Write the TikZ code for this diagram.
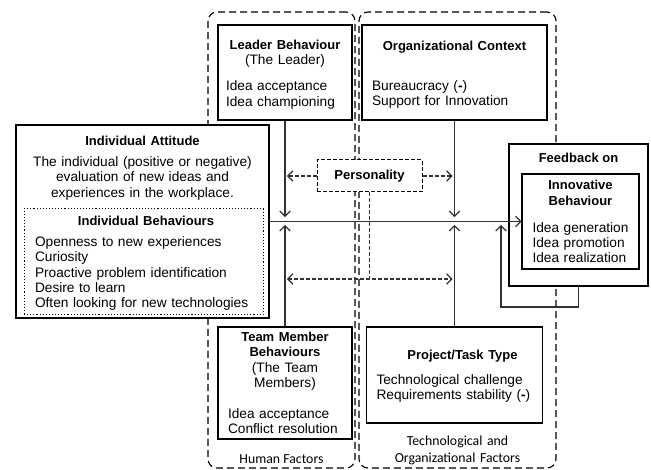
\documentclass[tikz,border=0pt]{standalone}
\usepackage{fontspec}
\setmainfont{Liberation Sans}
\newfontfamily\groupfont{Carlito}
\usetikzlibrary{arrows.meta, positioning}
\setlength{\parindent}{0pt}
\newcommand{\boxtitle}[1]{{\fontsize{13}{15.3}\selectfont\bfseries #1}}
\tikzset{x=1pt, y=-1pt, >={Straight Barb[length=5pt, width=10.5pt]},
	plainbox/.style={draw, fill=white, line width=1.1pt},
	txt/.style={anchor=base},
	factorgroup/.style={draw, line width=1.1pt, dash pattern=on 7pt off 4pt, rounded corners=9pt},
	link/.style={line width=1.25pt, draw=black!80},
	dlink/.style={link, dash pattern=on 4pt off 2pt}}

\begin{document}
\begin{tikzpicture}[every node/.style={font=\fontsize{13.7}{15.3}\selectfont, inner sep=0pt}]
	\useasboundingbox (0,0) rectangle (651,470);
	\node[factorgroup, minimum width=147, minimum height=456] (Human) at (281.5,240) {};
	\node[factorgroup, minimum width=197, minimum height=456] (Tech) at (457.5,240) {};
	\node[txt, font=\groupfont\fontsize{13.8}{17}\selectfont] (Human label) at (281.5,463.5) {Human Factors};
	\node[txt, text width=170, font=\groupfont\fontsize{13.8}{17}\selectfont] (Tech label) at (457.5,445.5) {\centering Technological and\par Organizational Factors\par};

	\node[plainbox, minimum width=134, minimum height=95] (Leader) at (285,72.5) {};
	\node[txt, text width=118] (Leader text) at (285,49.5) {\centering\boxtitle{Leader Behaviour}\par (The Leader)\par\vspace{10.7pt}\raggedright Idea acceptance\par Idea championing\par};
	\node[plainbox, minimum width=185, minimum height=95] (Org) at (454.5,72.5) {};
	\node[txt, text width=165] (Org text) at (454.5,50.5) {\centering\boxtitle{Organizational Context}\par\vspace{24.7pt}\raggedright Bureaucracy (\textbf{-})\par Support for Innovation\par};

	\node[plainbox, minimum width=253, minimum height=193] (Attitude) at (142.5,221.5) {};
	\node[txt, text width=245] (Attitude text) at (142.5,145.5) {\centering\boxtitle{Individual Attitude}\par\vspace{5.7pt}The individual (positive or negative)\par evaluation of new ideas and\par experiences in the workplace.\par};
	\node[plainbox, dotted, line width=1pt, minimum width=239, minimum height=106] (Behaviours) at (143.5,262) {};
	\node[txt, text width=222] (Behaviours text) at (146,225.5) {\centering\boxtitle{Individual Behaviours}\par\vspace{5.7pt}\raggedright Openness to new experiences\par Curiosity\par Proactive problem identification\par Desire to learn\par Often looking for new technologies\par};

	\node[plainbox, dash pattern=on 4pt off 2pt, line width=1pt, minimum width=105, minimum height=32] (Personality) at (369.5,176) {\boxtitle{Personality}};

	\node[plainbox, minimum width=139, minimum height=142] (Feedback) at (578.5,215) {};
	\node[txt] (Feedback text) at (578.5,162.5) {\boxtitle{Feedback on}};
	\node[plainbox, minimum width=117, minimum height=95] (Innovative) at (580.5,221.5) {};
	\node[txt, text width=104] (Innovative text) at (584.5,190) {\centering\hspace*{-8pt}\boxtitle{Innovative}\par\hspace*{-8pt}\boxtitle{Behaviour}\par\vspace{11.7pt}\raggedright Idea generation\par Idea promotion\par Idea realization\par};

	\node[plainbox, minimum width=134, minimum height=112] (Team) at (285,383) {};
	\node[txt, text width=114] (Team text) at (285,341.5) {\centering\boxtitle{Team Member}\par\boxtitle{Behaviours}\par (The Team\par Members)\par\vspace{15.7pt}\raggedright Idea acceptance\par Conflict resolution\par};
	\node[plainbox, minimum width=176, minimum height=96] (Project) at (454.5,375) {};
	\node[txt, text width=156] (Project text) at (454.5,359.5) {\centering\hspace*{16pt}\boxtitle{Project/Task Type}\par\vspace{9.7pt}\raggedright Technological challenge\par Requirements stability (\textbf{-})\par};

	\coordinate (Leader in) at (285,217);
	\coordinate (Team in) at (285,225);
	\coordinate (Org in) at (454.5,217);
	\coordinate (Project in) at (454.5,225);
	\coordinate (Loop corner) at (501,307);
	\coordinate (Loop in) at (501,225);
	\coordinate (Pers left) at (287,176);
	\coordinate (Pers right) at (452.5,176);
	\coordinate (Pers drop) at (369.5,279);
	\coordinate (Team side) at (287,279);
	\coordinate (Project side) at (452.5,279);

	\draw[link, ->] (Attitude.east) -- (Innovative.west);
	\draw[link, ->] (Leader) -- (Leader in);
	\draw[link, ->] (Team) -- (Team in);
	\draw[link, ->] (Org) -- (Org in);
	\draw[link, ->] (Project) -- (Project in);
	\draw[link, ->] (Feedback.south) |- (Loop corner) -- (Loop in);
	\draw[dlink, ->] (Personality.west) -- (Pers left);
	\draw[dlink, ->] (Personality.east) -- (Pers right);
	\draw[dlink] (Personality.south) -- (Pers drop);
	\draw[dlink, <->] (Team side) -- (Project side);
\end{tikzpicture}
\end{document}
